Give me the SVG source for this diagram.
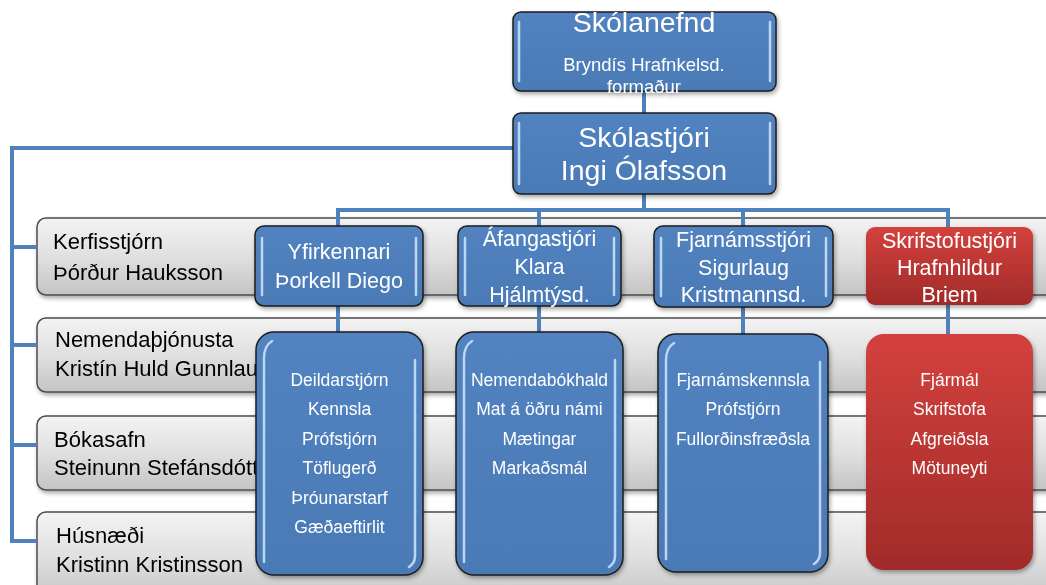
<svg xmlns="http://www.w3.org/2000/svg" width="1046" height="585" viewBox="0 0 1046 585">
  <defs>
    <linearGradient id="gGray" x1="0" y1="0" x2="0" y2="1">
      <stop offset="0" stop-color="#f3f3f3"/>
      <stop offset="0.5" stop-color="#e0e0e0"/>
      <stop offset="1" stop-color="#c4c4c4"/>
    </linearGradient>
    <linearGradient id="gBlue" x1="0" y1="0" x2="0" y2="1">
      <stop offset="0" stop-color="#5283c0"/>
      <stop offset="1" stop-color="#4a7ab6"/>
    </linearGradient>
    <linearGradient id="gRed" x1="0" y1="0" x2="0" y2="1">
      <stop offset="0" stop-color="#d3413d"/>
      <stop offset="1" stop-color="#a12b29"/>
    </linearGradient>
    <filter id="sh" x="-10%" y="-10%" width="125%" height="125%">
      <feDropShadow dx="1.5" dy="2.5" stdDeviation="2" flood-color="#000" flood-opacity="0.35"/>
    </filter>
    <style>
      .conn { stroke:#4f81bd; stroke-width:4; fill:none; }
      .bar { fill:url(#gGray); stroke:#4d4d4d; stroke-width:1.5; }
      .box { fill:url(#gBlue); stroke:#1e1e1e; stroke-width:1.5; }
      .red { fill:url(#gRed); stroke:none; }
      .hl { stroke:#c9e0f7; stroke-width:2.5; fill:none; stroke-linecap:round; opacity:0.9; }
      .t { font-family:"Liberation Sans", Arial, sans-serif; fill:#ffffff; text-anchor:middle; }
      .g { font-family:"Liberation Sans", Arial, sans-serif; fill:#000000; font-size:22px; }
      .l1 { font-size:28.5px; }
      .l2 { font-size:21.5px; }
      .l3 { font-size:17.5px; }
      .sub { font-size:18.5px; }
    </style>
  </defs>

  <!-- gray side bars -->
  <g id="kerfisstjorn" filter="url(#sh)">
    <rect class="bar" x="37" y="218" width="1050" height="77" rx="9"/>
    <text class="g" x="53" y="249">Kerfisstjórn</text>
    <text class="g" x="53" y="280">Þórður Hauksson</text>
  </g>
  <g id="nemendathjonusta" filter="url(#sh)">
    <rect class="bar" x="37" y="318" width="1050" height="74" rx="9"/>
    <text class="g" x="55" y="347">Nemendaþjónusta</text>
    <text class="g" x="55" y="376">Kristín Huld Gunnlau</text>
  </g>
  <g id="bokasafn" filter="url(#sh)">
    <rect class="bar" x="37" y="416" width="1050" height="74" rx="9"/>
    <text class="g" x="54" y="447">Bókasafn</text>
    <text class="g" x="54" y="475">Steinunn Stefánsdótt</text>
  </g>
  <g id="husnaedi" filter="url(#sh)">
    <rect class="bar" x="37" y="512" width="1050" height="90" rx="9"/>
    <text class="g" x="56" y="543">Húsnæði</text>
    <text class="g" x="56" y="572">Kristinn Kristinsson</text>
  </g>

  <!-- connectors -->
  <g id="connectors" class="conn">
    <path d="M644,91 V113"/>
    <path d="M513,148 H12 V541 H37"/>
    <path d="M12,247 H37 M12,345 H37 M12,445 H37"/>
    <path d="M644,194 V210 M338,226 V210 H948 V227 M539,210 V226 M743,210 V226"/>
    <path d="M338,306 V332 M539,306 V332 M743,307 V334 M948,305 V334"/>
  </g>

  <!-- top -->
  <g id="skolanefnd" filter="url(#sh)">
    <rect class="box" x="513" y="12" width="263" height="79" rx="8"/>
    <path class="hl" d="M519,22 V81 M770,22 V81"/>
    <text class="t l1" x="644" y="32">Skólanefnd</text>
    <text class="t sub" x="644" y="71">Bryndís Hrafnkelsd.</text>
    <text class="t sub" x="644" y="93">formaður</text>
  </g>
  <g id="skolastjori" filter="url(#sh)">
    <rect class="box" x="513" y="113" width="263" height="81" rx="8"/>
    <path class="hl" d="M519,123 V184 M770,123 V184"/>
    <text class="t l1" x="644" y="147">Skólastjóri</text>
    <text class="t l1" x="644" y="180">Ingi Ólafsson</text>
  </g>

  <!-- level 2 -->
  <g id="yfirkennari" filter="url(#sh)">
    <rect class="box" x="255" y="226" width="168" height="80" rx="9"/>
    <path class="hl" d="M262,238 V295 M416,238 V295"/>
    <text class="t l2" x="339" y="259">Yfirkennari</text>
    <text class="t l2" x="339" y="288">Þorkell Diego</text>
  </g>
  <g id="afangastjori" filter="url(#sh)">
    <rect class="box" x="458" y="226" width="163" height="80" rx="9"/>
    <path class="hl" d="M465,238 V295 M614,238 V295"/>
    <text class="t l2" x="539.5" y="246">Áfangastjóri</text>
    <text class="t l2" x="539.5" y="274">Klara</text>
    <text class="t l2" x="539.5" y="302">Hjálmtýsd.</text>
  </g>
  <g id="fjarnamsstjori" filter="url(#sh)">
    <rect class="box" x="654" y="226" width="179" height="81" rx="9"/>
    <path class="hl" d="M661,238 V296 M826,238 V296"/>
    <text class="t l2" x="743.5" y="247">Fjarnámsstjóri</text>
    <text class="t l2" x="743.5" y="275">Sigurlaug</text>
    <text class="t l2" x="743.5" y="302">Kristmannsd.</text>
  </g>
  <g id="skrifstofustjori" filter="url(#sh)">
    <rect class="red" x="866" y="227" width="167" height="78" rx="9"/>
    <text class="t l2" x="949.5" y="248">Skrifstofustjóri</text>
    <text class="t l2" x="949.5" y="275">Hrafnhildur</text>
    <text class="t l2" x="949.5" y="302">Briem</text>
  </g>

  <!-- level 3 -->
  <g id="yfirkennari-verk" filter="url(#sh)">
    <rect class="box" x="256" y="332" width="167" height="243" rx="18"/>
    <path class="hl" d="M272,341 Q264,346 264,358 V562 M415,360 V556 Q415,563 409,567"/>
    <text class="t l3" x="339.5" y="386">Deildarstjórn</text>
    <text class="t l3" x="339.5" y="415">Kennsla</text>
    <text class="t l3" x="339.5" y="445">Prófstjórn</text>
    <text class="t l3" x="339.5" y="474">Töflugerð</text>
    <text class="t l3" x="339.5" y="504">Þróunarstarf</text>
    <text class="t l3" x="339.5" y="533">Gæðaeftirlit</text>
  </g>
  <g id="afangastjori-verk" filter="url(#sh)">
    <rect class="box" x="456" y="332" width="167" height="243" rx="18"/>
    <path class="hl" d="M472,341 Q464,346 464,358 V562 M615,360 V556 Q615,563 609,567"/>
    <text class="t l3" x="539.5" y="386">Nemendabókhald</text>
    <text class="t l3" x="539.5" y="415">Mat á öðru námi</text>
    <text class="t l3" x="539.5" y="445">Mætingar</text>
    <text class="t l3" x="539.5" y="474">Markaðsmál</text>
  </g>
  <g id="fjarnamsstjori-verk" filter="url(#sh)">
    <rect class="box" x="658" y="334" width="170" height="238" rx="18"/>
    <path class="hl" d="M674,343 Q666,348 666,360 V559 M820,362 V553 Q820,560 814,564"/>
    <text class="t l3" x="743" y="386">Fjarnámskennsla</text>
    <text class="t l3" x="743" y="415">Prófstjórn</text>
    <text class="t l3" x="743" y="445">Fullorðinsfræðsla</text>
  </g>
  <g id="skrifstofustjori-verk" filter="url(#sh)">
    <rect class="red" x="866" y="334" width="167" height="236" rx="18"/>
    <text class="t l3" x="949.5" y="386">Fjármál</text>
    <text class="t l3" x="949.5" y="415">Skrifstofa</text>
    <text class="t l3" x="949.5" y="445">Afgreiðsla</text>
    <text class="t l3" x="949.5" y="474">Mötuneyti</text>
  </g>
</svg>
